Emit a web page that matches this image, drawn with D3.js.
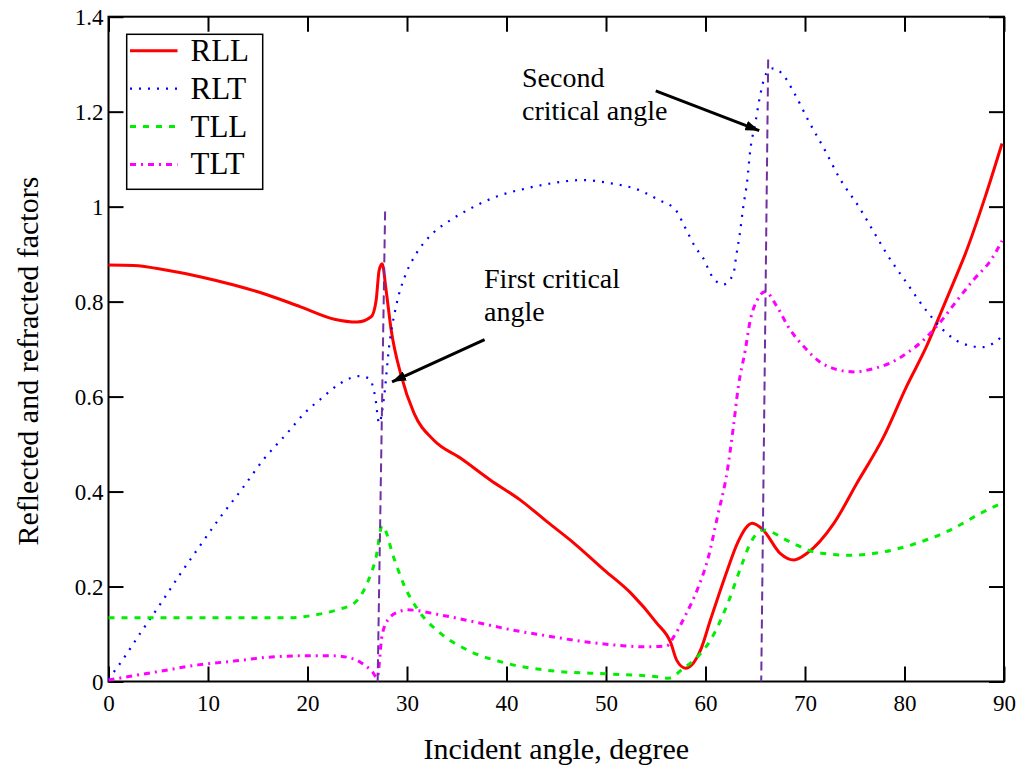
<!DOCTYPE html>
<html>
<head>
<meta charset="utf-8">
<script src="https://cdn.jsdelivr.net/npm/d3@7"></script>
<style>
  body { margin: 0; background: #fff; }
  svg text { font-family: "Liberation Serif", "Times New Roman", serif; }
</style>
</head>
<body>
<div id="chart"></div>
<script>
// series (angle in degrees, factor)
var rllAngle = [0, 2.5, 5.9, 9.3, 12.6, 16.0, 19.3, 22.7, 25.0, 26.4, 26.9, 27.2, 27.5, 27.9, 28.4, 29.4, 30.7, 32.7, 35.4, 38.4, 41.4, 44.1, 46.8, 49.8, 52.5, 55.1, 56.5, 57.1, 58.0, 59.5, 60.5, 62.2, 63.2, 64.7, 65.8, 67.5, 68.9, 70.2, 72.9, 75.2, 77.9, 80.2, 82.2, 83.9, 85.3, 86.1, 88.1, 89.8];
var rllValue = [0.877, 0.876, 0.866, 0.852, 0.835, 0.814, 0.789, 0.763, 0.757, 0.768, 0.803, 0.866, 0.880, 0.824, 0.742, 0.645, 0.565, 0.508, 0.47, 0.424, 0.382, 0.336, 0.291, 0.235, 0.186, 0.123, 0.082, 0.045, 0.028, 0.066, 0.13, 0.235, 0.291, 0.333, 0.319, 0.27, 0.256, 0.27, 0.333, 0.417, 0.515, 0.621, 0.705, 0.789, 0.859, 0.900, 1.02, 1.133];

var rltAngle = [0, 1.4, 3.3, 5.3, 7.2, 9.2, 11.2, 13.4, 15.6, 18.0, 19.7, 21.5, 23.3, 25.2, 26.2, 26.8, 27.2, 27.7, 28.2, 28.9, 29.9, 30.9, 32.4, 34.4, 36.2, 39.1, 41.9, 44.8, 47.6, 50.5, 53.3, 55.3, 57.0, 58.0, 59.0, 59.7, 60.7, 61.8, 62.8, 63.1, 63.4, 63.8, 64.2, 64.5, 65.0, 65.5, 66.1, 66.8, 67.7, 68.9, 70.4, 72.0, 73.5, 75.4, 77.1, 78.2, 80.2, 82.2, 83.9, 85.8, 87.8, 88.9, 89.8];
var rltValue = [0.005, 0.045, 0.105, 0.166, 0.226, 0.286, 0.345, 0.405, 0.468, 0.524, 0.565, 0.598, 0.628, 0.643, 0.638, 0.60, 0.544, 0.60, 0.705, 0.79, 0.859, 0.90, 0.94, 0.972, 0.994, 1.022, 1.038, 1.05, 1.056, 1.049, 1.035, 1.014, 0.993, 0.954, 0.914, 0.894, 0.852, 0.836, 0.858, 0.898, 0.936, 1.0, 1.056, 1.119, 1.175, 1.235, 1.28, 1.291, 1.28, 1.24, 1.179, 1.119, 1.059, 1.0, 0.94, 0.901, 0.84, 0.781, 0.74, 0.712, 0.704, 0.712, 0.727];

var tllAngle = [0, 18.1, 20.7, 23.0, 24.7, 26.0, 26.9, 27.5, 28.7, 29.7, 31.0, 33.4, 36.1, 39.7, 44.8, 50.1, 55.1, 56.3, 57.8, 59.5, 60.5, 62.3, 63.7, 64.5, 65.8, 68.5, 70.9, 74.5, 77.9, 81.2, 84.6, 87.9, 89.8];
var tllValue = [0.134, 0.134, 0.14, 0.151, 0.165, 0.207, 0.263, 0.328, 0.259, 0.203, 0.154, 0.101, 0.066, 0.04, 0.022, 0.016, 0.01, 0.007, 0.028, 0.059, 0.087, 0.168, 0.249, 0.291, 0.319, 0.294, 0.273, 0.266, 0.273, 0.291, 0.319, 0.357, 0.376];

var tltAngle = [0, 1.9, 5.3, 9.0, 12.6, 16.0, 19.3, 22.7, 24.7, 25.7, 26.5, 27.0, 27.5, 28.2, 29.2, 30.0, 33.4, 37.1, 40.7, 44.1, 47.4, 50.8, 54.1, 56.1, 56.8, 58.0, 59.3, 60.2, 61.2, 62.2, 62.8, 63.3, 64.0, 64.5, 65.2, 66.0, 67.2, 68.4, 69.9, 71.5, 73.2, 75.0, 76.9, 78.6, 80.2, 81.9, 83.6, 85.3, 86.9, 88.8, 89.8];
var tltValue = [0.003, 0.01, 0.022, 0.035, 0.043, 0.051, 0.054, 0.054, 0.047, 0.035, 0.021, 0.008, 0.098, 0.133, 0.147, 0.151, 0.14, 0.124, 0.108, 0.096, 0.085, 0.077, 0.073, 0.075, 0.094, 0.14, 0.2, 0.255, 0.347, 0.445, 0.536, 0.621, 0.698, 0.761, 0.803, 0.821, 0.789, 0.744, 0.705, 0.673, 0.657, 0.652, 0.659, 0.671, 0.691, 0.719, 0.757, 0.803, 0.845, 0.891, 0.928];

// critical angle markers (slightly slanted in the original)
var firstCritAngle = [27.8, 27.05];
var firstCritValue = [0.99, 0];
var secondCritAngle = [66.3, 65.6];
var secondCritValue = [1.31, 0];

var seriesNames = ["RLL", "RLT", "TLL", "TLT"];
var xTicks = [0, 10, 20, 30, 40, 50, 60, 70, 80, 90];
var xTickLabels = ["0", "10", "20", "30", "40", "50", "60", "70", "80", "90"];
var yTicks = [0, 0.2, 0.4, 0.6, 0.8, 1, 1.2, 1.4];
var yTickLabels = ["0", "0.2", "0.4", "0.6", "0.8", "1", "1.2", "1.4"];

var width = 1025, height = 773;
var serif = "'Liberation Serif', 'Times New Roman', serif";

var svg = d3.select("#chart").append("svg")
  .attr("width", width)
  .attr("height", height);

var x = d3.scaleLinear().domain([0, 90]).range([108.5, 1004]);
var y = d3.scaleLinear().domain([0, 1.4]).range([681.5, 16.7]);

var styles = {
  RLL: { color: "#ff0000", dash: null, w: 3 },
  RLT: { color: "#0000ff", dash: "2,7", w: 2.2 },
  TLL: { color: "#00ee00", dash: "6,7", w: 3 },
  TLT: { color: "#ff00ff", dash: "6,5,2,5", w: 3 }
};

var series = [
  { name: "RLL", xs: rllAngle, ys: rllValue },
  { name: "RLT", xs: rltAngle, ys: rltValue },
  { name: "TLL", xs: tllAngle, ys: tllValue },
  { name: "TLT", xs: tltAngle, ys: tltValue }
];

// axes, ticks pointing inward on all four sides
var axisB = svg.append("g")
  .attr("transform", "translate(0," + y(0) + ")")
  .call(d3.axisBottom(x).tickValues(xTicks)
    .tickFormat(function(d, i) { return xTickLabels[i]; })
    .tickSizeInner(-15).tickSizeOuter(0).tickPadding(13));
var axisL = svg.append("g")
  .attr("transform", "translate(" + x(0) + ",0)")
  .call(d3.axisLeft(y).tickValues(yTicks)
    .tickFormat(function(d, i) { return yTickLabels[i]; })
    .tickSizeInner(-15).tickSizeOuter(0).tickPadding(5));
var axisT = svg.append("g")
  .attr("transform", "translate(0," + y(1.4) + ")")
  .call(d3.axisTop(x).tickValues(xTicks).tickFormat("")
    .tickSizeInner(-15).tickSizeOuter(0));
var axisR = svg.append("g")
  .attr("transform", "translate(" + x(90) + ",0)")
  .call(d3.axisRight(y).tickValues(yTicks).tickFormat("")
    .tickSizeInner(-15).tickSizeOuter(0));

[axisB, axisL, axisT, axisR].forEach(function(g) {
  g.attr("font-family", serif);
  g.select(".domain").remove();
  g.selectAll(".tick line").attr("stroke", "#000").attr("stroke-width", 2);
  g.selectAll(".tick text")
    .attr("fill", "#000")
    .style("font-family", serif)
    .style("font-size", "23px");
});
axisL.selectAll(".tick text").attr("dy", "0.34em");

svg.append("rect")
  .attr("x", x(0)).attr("y", y(1.4))
  .attr("width", x(90) - x(0)).attr("height", y(0) - y(1.4))
  .attr("fill", "none").attr("stroke", "#000").attr("stroke-width", 2);

// curves
var line = d3.line()
  .x(function(d) { return x(d[0]); })
  .y(function(d) { return y(d[1]); })
  .curve(d3.curveMonotoneX);

series.forEach(function(s) {
  var st = styles[s.name];
  svg.append("path")
    .datum(d3.zip(s.xs, s.ys))
    .attr("d", line)
    .attr("fill", "none")
    .attr("stroke", st.color)
    .attr("stroke-width", st.w)
    .attr("stroke-dasharray", st.dash);
});

// critical angle lines
[[firstCritAngle, firstCritValue], [secondCritAngle, secondCritValue]].forEach(function(c) {
  svg.append("line")
    .attr("x1", x(c[0][0])).attr("y1", y(c[1][0]))
    .attr("x2", x(c[0][1])).attr("y2", y(c[1][1]))
    .attr("stroke", "#7030a0")
    .attr("stroke-width", 2)
    .attr("stroke-dasharray", "9,5");
});

// annotations
svg.append("defs").append("marker")
  .attr("id", "arrow")
  .attr("viewBox", "0 0 14 10")
  .attr("refX", 14).attr("refY", 5)
  .attr("markerWidth", 14).attr("markerHeight", 10)
  .attr("markerUnits", "userSpaceOnUse")
  .attr("orient", "auto")
  .append("path")
  .attr("d", "M0,0 L14,5 L0,10 Z")
  .attr("fill", "#000");

var notes = [
  { lines: ["First critical", "angle"], tx: 484, ty: 288, from: [37.8, 0.720], to: [28.5, 0.631] },
  { lines: ["Second", "critical angle"], tx: 522, ty: 87, from: [55.0, 1.244], to: [65.4, 1.160] }
];

notes.forEach(function(n) {
  var t = svg.append("text")
    .attr("x", n.tx).attr("y", n.ty)
    .style("font-family", serif)
    .style("font-size", "28px")
    .attr("fill", "#000");
  n.lines.forEach(function(l, i) {
    t.append("tspan").attr("x", n.tx).attr("dy", i === 0 ? 0 : 33).text(l);
  });
  svg.append("line")
    .attr("x1", x(n.from[0])).attr("y1", y(n.from[1]))
    .attr("x2", x(n.to[0])).attr("y2", y(n.to[1]))
    .attr("stroke", "#000").attr("stroke-width", 3)
    .attr("marker-end", "url(#arrow)");
});

// legend
var legend = svg.append("g");
legend.append("rect")
  .attr("x", 126.7).attr("y", 34.3)
  .attr("width", 136).attr("height", 155)
  .attr("fill", "#fff").attr("stroke", "#000").attr("stroke-width", 1.5);

seriesNames.forEach(function(name, i) {
  var st = styles[name];
  var cy = 50.7 + i * 37.9;
  legend.append("line")
    .attr("x1", 130).attr("x2", 177.5)
    .attr("y1", cy).attr("y2", cy)
    .attr("stroke", st.color)
    .attr("stroke-width", st.w)
    .attr("stroke-dasharray", st.dash);
  legend.append("text")
    .attr("x", 190.5).attr("y", cy + 10)
    .style("font-family", serif)
    .style("font-size", "31px")
    .attr("fill", "#000")
    .text(name);
});

// axis titles
svg.append("text")
  .attr("x", (x(0) + x(90)) / 2).attr("y", 759)
  .attr("text-anchor", "middle")
  .style("font-family", serif)
  .style("font-size", "30px")
  .text("Incident angle, degree");

svg.append("text")
  .attr("transform", "translate(38," + ((y(0) + y(1.4)) / 2 + 12) + ") rotate(-90)")
  .attr("text-anchor", "middle")
  .style("font-family", serif)
  .style("font-size", "30px")
  .text("Reflected and refracted factors");
</script>
</body>
</html>
